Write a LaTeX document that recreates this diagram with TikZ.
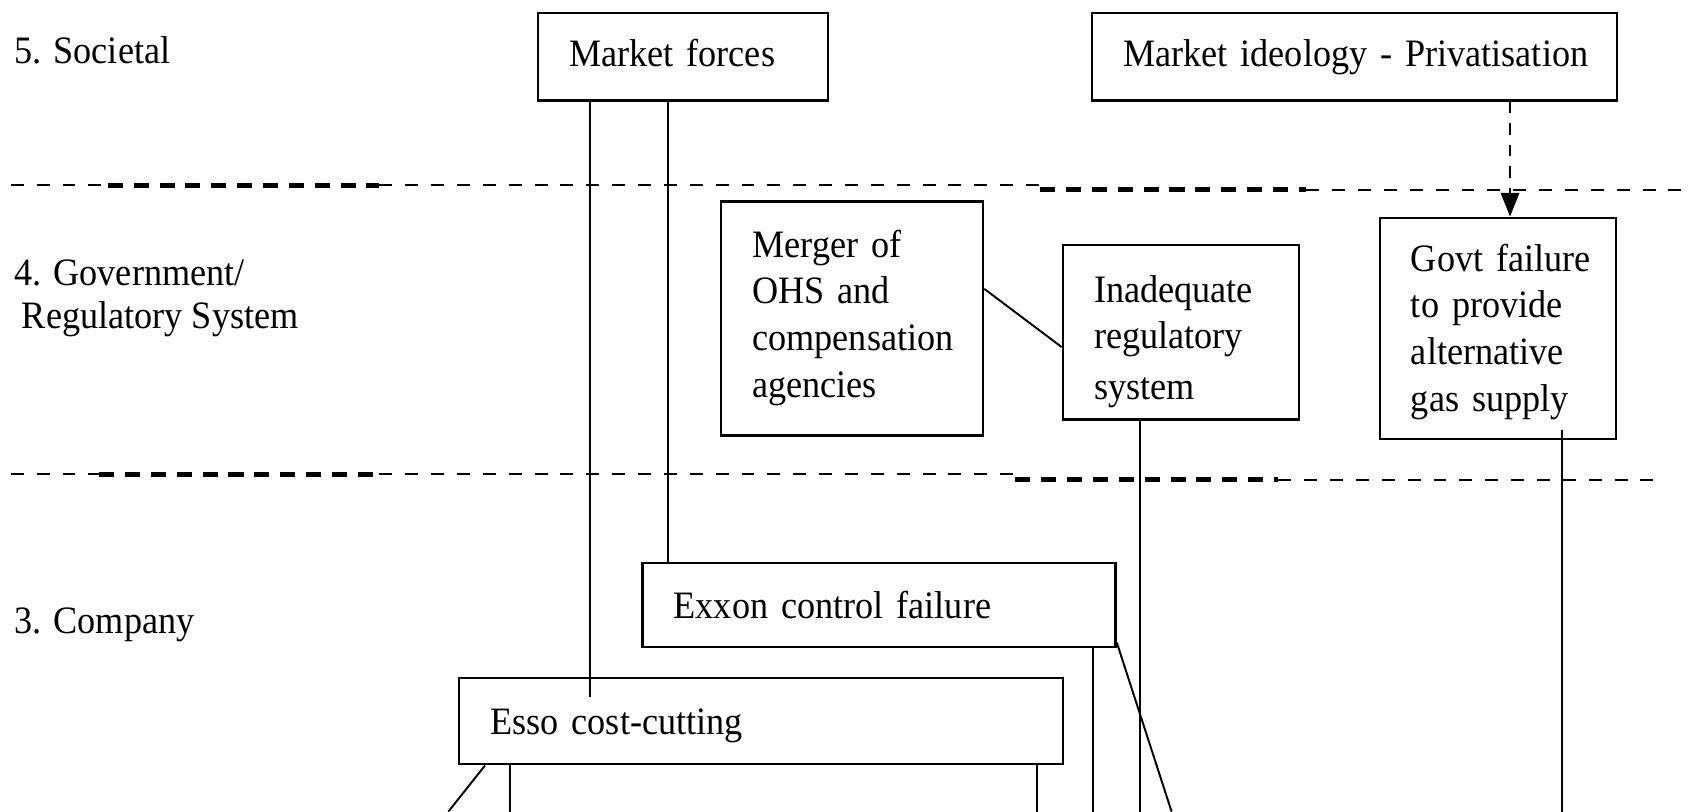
\documentclass[tikz,border=0pt]{standalone}
\usepackage{fontspec}
\setmainfont{Liberation Serif}[FakeStretch=0.933]
\usepackage{tikz}
\usetikzlibrary{arrows.meta}
\tikzstyle{cause} = [rectangle, draw=black, line width=1.1pt, anchor=north west, align=left, inner xsep=14.5pt, inner ysep=0pt, font=\fontsize{18}{21.7}\selectfont]
\tikzstyle{level} = [anchor=base west, inner sep=0pt, font=\fontsize{18}{21.7}\selectfont]
\tikzstyle{line} = [draw, line width=0.9pt]
\tikzstyle{dashline} = [draw, line width=1pt, dash pattern=on 5.5pt off 4.5pt, -{Triangle[length=11pt,width=8.5pt]}]
\tikzstyle{border} = [draw, line width=1pt, dash pattern=on 6pt off 6pt]
\tikzstyle{heavy} = [draw, line width=2.2pt, dash pattern=on 7pt off 5pt]
\hyphenpenalty=10000
\exhyphenpenalty=10000

\begin{document}
\begin{tikzpicture}[x=0.5pt, y=-0.5pt]
	\useasboundingbox (0,0) rectangle (1568,753);
	% Levels
	\node [level] (soc) at (13,59) {5. Societal};
	\node [level] (gov) at (13,264.5) {4. Government/};
	\node [level] (reg) at (20,305) {Regulatory System};
	\node [level] (comp) at (13,588) {3. Company};
	% Level borders
	\path [border] (10,172) -- (100,172);
	\path [heavy] (100,172) -- (352,172);
	\path [border] (352,172) -- (965,172);
	\path [heavy] (965,176) -- (1212,176);
	\path [border] (1212,176) -- (1568,176);
	\path [border] (10,440) -- (92,440);
	\path [heavy] (92,440) -- (352,440);
	\path [border] (352,440) -- (942,440);
	\path [heavy] (942,445) -- (1186,445);
	\path [border] (1186,445) -- (1542,445);
	% Place nodes
	\node [cause, text width=105.5pt, text height=25pt, text depth=15.5pt] (mforces) at (498,11) {Market~forces};
	\node [cause, text width=214.5pt, text height=25pt, text depth=15.5pt] (mideo) at (1012,11) {\mbox{Market ideology - Privatisation}};
	\node [cause, text width=92.5pt, text height=25.75pt, text depth=82.75pt] (merger) at (668,186) {Merger~of\\ OHS~and\\ compensation\\ agencies};
	\node [cause, text width=80.5pt, text height=26.6pt, text depth=54.4pt] (inadeq) at (985,226) {Inadequate\\ regulatory\\[2pt] system};
	\node [cause, text width=80.5pt, text height=24.75pt, text depth=77.75pt] (govt) at (1279,201) {Govt~failure\\ to~provide\\ alternative\\ gas~supply};
	\node [cause, text width=190.5pt, text height=26pt, text depth=13pt] (exxon) at (595,521) {Exxon~control~failure};
	\node [cause, text width=251pt, text height=26pt, text depth=14pt] (esso) at (425,628) {\mbox{Esso cost-cutting}};
	% Free ends
	\coordinate (essoin) at (547,647);
	\coordinate (inadeqend) at (1058,753);
	\coordinate (govtend) at (1449,753);
	\coordinate (exxonend) at (1014,753);
	\coordinate (exxondiag) at (1087,753);
	\coordinate (essodiag) at (416,753);
	\coordinate (essoleft) at (473,753);
	\coordinate (essoright) at (962,753);
	% Draw edges
	\path [line] (mforces.south -| essoin) -- (essoin);
	\path [line] ([xshift=61pt]mforces.south west) -- ([xshift=61pt]mforces.south west |- exxon.north);
	\path [line] ([yshift=-41pt]merger.north east) -- ([yshift=-48pt]inadeq.north west);
	\path [dashline] ([xshift=194.5pt]mideo.south west) -- ([xshift=194.5pt]mideo.south west |- govt.north);
	\path [line] (inadeq.south -| inadeqend) -- (inadeqend);
	\path [line] ([yshift=4.5pt]govt.south -| govtend) -- (govtend);
	\path [line] (exxon.south -| exxonend) -- (exxonend);
	\path [line] ([yshift=2.5pt]exxon.south east) -- (exxondiag);
	\path [line] ([xshift=12.5pt]esso.south west) -- (essodiag);
	\path [line] (esso.south -| essoleft) -- (essoleft);
	\path [line] (esso.south -| essoright) -- (essoright);
\end{tikzpicture}
\end{document}
